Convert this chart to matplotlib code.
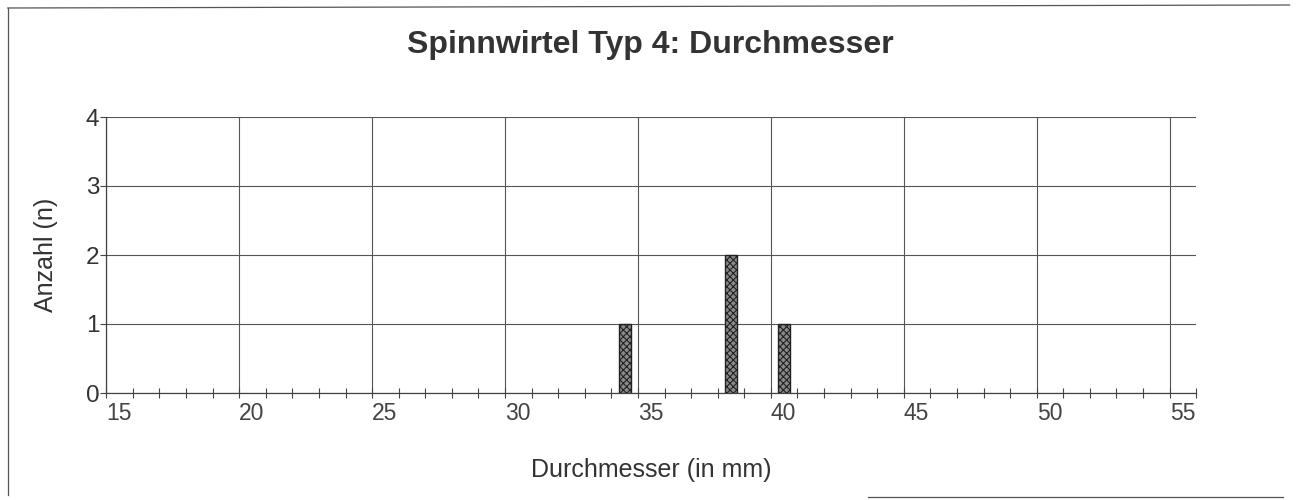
import matplotlib.pyplot as plt
from matplotlib.ticker import MultipleLocator
from matplotlib.lines import Line2D

plt.rcParams['font.family'] = ['Liberation Sans', 'DejaVu Sans']
plt.rcParams['hatch.linewidth'] = 0.8

# Durchmesser-Klassen (mm) und Anzahl
durchmesser = [34, 38, 40]
anzahl = [1, 2, 1]
x_ticks = [15, 20, 25, 30, 35, 40, 45, 50, 55]
y_ticks = [0, 1, 2, 3, 4]

fig = plt.figure(figsize=(12.96, 5.0), dpi=100)
ax = fig.add_axes([0.082, 0.214, 0.841, 0.552])

# Balken stehen jeweils mittig im 1-mm-Intervall
ax.bar([d + 0.5 for d in durchmesser], anzahl, width=0.45,
       facecolor='#8a8a8a', edgecolor='#222222', hatch='xxxxx',
       linewidth=1.0, zorder=3)

ax.set_xlim(15, 56)
ax.set_ylim(0, 4)
ax.set_xticks(x_ticks)
ax.set_yticks(y_ticks)
ax.xaxis.set_minor_locator(MultipleLocator(1))
ax.grid(True, which='major', color='#555555', linewidth=0.8, zorder=0)

for side in ['top', 'right']:
    ax.spines[side].set_visible(False)
for side in ['left', 'bottom']:
    ax.spines[side].set_color('#444444')
    ax.spines[side].set_linewidth(0.9)

ax.tick_params(axis='x', which='both', direction='inout', length=7,
               width=0.8, color='#444444', labelsize=16.5,
               labelcolor='#444444', pad=3)
ax.tick_params(axis='y', direction='out', length=4, width=0.8,
               color='#444444', labelsize=17.5, labelcolor='#333333', pad=1)
for lbl in ax.get_xticklabels():
    lbl.set_horizontalalignment('left')

ax.set_xlabel('Durchmesser (in mm)', fontsize=18, color='#333333', labelpad=24)
ax.set_ylabel('Anzahl (n)', fontsize=18, color='#333333', labelpad=20)
fig.text(0.502, 0.91, 'Spinnwirtel Typ 4: Durchmesser', ha='center',
         va='center', fontsize=23, fontweight='bold', color='#333333')

# Rahmen um die Grafik
frame_kw = dict(color='#555555', linewidth=0.9, transform=fig.transFigure)
fig.add_artist(Line2D([0.006, 0.006], [0.01, 0.984], **frame_kw))
fig.add_artist(Line2D([0.006, 0.995], [0.984, 0.99], **frame_kw))
fig.add_artist(Line2D([0.67, 0.99], [0.006, 0.006], **frame_kw))

fig.savefig('out.png', dpi=100)
